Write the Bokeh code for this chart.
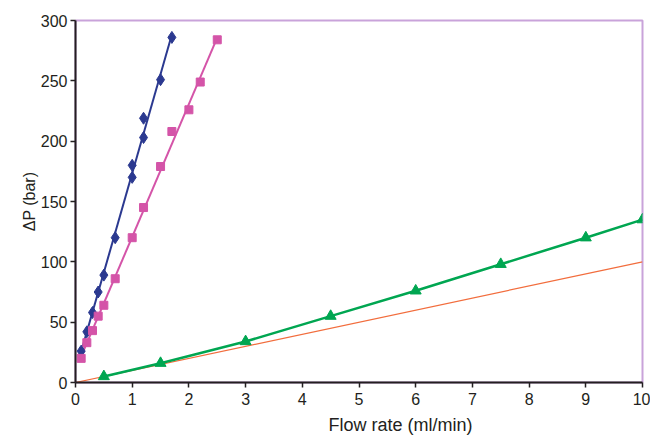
import numpy as np
from bokeh.plotting import figure
from bokeh.models import Range1d, FixedTicker, Title
from bokeh.embed import file_html
from bokeh.resources import INLINE

# Pressure drop vs flow rate for three columns, plus a reference line
blue_flow = [0.1, 0.2, 0.3, 0.4, 0.5, 0.7, 1.0, 1.0, 1.2, 1.2, 1.5, 1.7]
blue_dp = [26, 42, 58, 75, 89, 120, 170, 180, 203, 219, 251, 286]

pink_flow = [0.1, 0.2, 0.3, 0.4, 0.5, 0.7, 1.0, 1.2, 1.5, 1.7, 2.0, 2.2, 2.5]
pink_dp = [20, 33, 43, 55, 64, 86, 120, 145, 179, 208, 226, 249, 284]

green_flow = [0.5, 1.5, 3.0, 4.5, 6.0, 7.5, 9.0, 10.0]
green_dp = [5, 16, 34, 55, 76, 98, 120, 135]

ref_flow = [0, 10]
ref_dp = [0, 100]

x_ticks = list(range(0, 11))
y_ticks = [0, 50, 100, 150, 200, 250, 300]

FONT = "Liberation Sans"
INK = "#231f20"

p = figure(width=650, height=437, output_backend="svg", toolbar_location=None,
           x_range=Range1d(0, 10), y_range=Range1d(0, 300),
           min_border_left=75, min_border_right=8, min_border_top=20, min_border_bottom=55)
p.frame_width = 567
p.frame_height = 362

p.xgrid.visible = False
p.ygrid.visible = False
p.background_fill_color = "white"
p.border_fill_color = "white"
p.outline_line_color = "#c9a3da"
p.outline_line_width = 2

for ax in (p.xaxis, p.yaxis):
    ax.axis_line_color = INK
    ax.axis_line_width = 2
    ax.major_tick_line_color = INK
    ax.major_tick_line_width = 1.5
    ax.major_tick_in = 0
    ax.major_tick_out = 5
    ax.minor_tick_line_color = None
    ax.major_label_text_font = FONT
    ax.major_label_text_font_size = "16px"
    ax.major_label_text_color = INK
    ax.axis_label_text_font = FONT
    ax.axis_label_text_font_style = "normal"
    ax.axis_label_text_color = INK

p.xaxis.ticker = FixedTicker(ticks=x_ticks)
p.yaxis.ticker = FixedTicker(ticks=y_ticks)
p.xaxis.major_label_standoff = 5
p.yaxis.major_label_standoff = 3
p.yaxis.axis_label = "ΔP (bar)"
p.yaxis.axis_label_text_font_size = "16px"
p.yaxis.axis_label_standoff = 0

# x-axis title, set a little right of centre
p.add_layout(Title(text="Flow rate (ml/min)", align="left", offset=253,
                   text_font=FONT, text_font_size="18px", text_font_style="normal",
                   text_color=INK, standoff=11), "below")

# linear fits for the two steep series
for xs, ys, col in ((blue_flow, blue_dp, "#2b3990"), (pink_flow, pink_dp, "#d454a8")):
    k, b = np.polyfit(xs, ys, 1)
    fx = [min(xs), max(xs)]
    p.line(fx, [k * v + b for v in fx], line_color=col, line_width=2)

p.line(ref_flow, ref_dp, line_color="#f26d3d", line_width=1.2)
p.line(green_flow, green_dp, line_color="#00a651", line_width=2.5)

p.scatter(blue_flow, blue_dp, marker="diamond", size=12, color="#2b3990")
p.scatter(pink_flow, pink_dp, marker="square", size=8, color="#d454a8")
p.scatter(green_flow, green_dp, marker="triangle", size=11, color="#00a651")

open("out.html", "w").write(file_html(p, INLINE))
